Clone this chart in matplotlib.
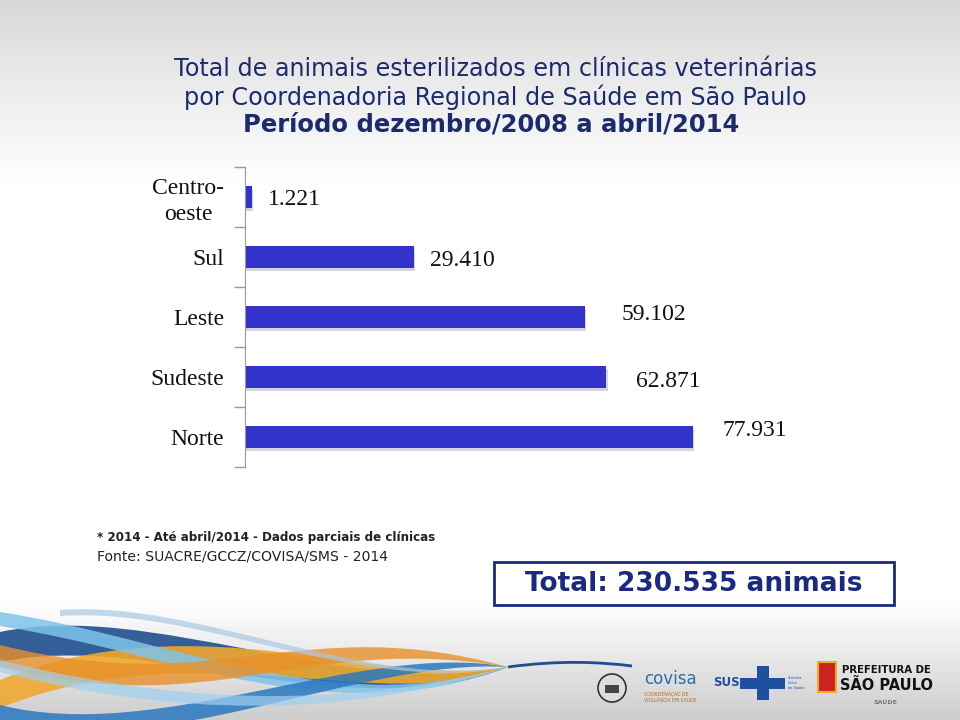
import matplotlib
matplotlib.use("Agg")
import matplotlib.pyplot as plt
import numpy as np
from matplotlib.patches import Rectangle, PathPatch, Circle
from matplotlib.path import Path

# Data
regions = ["Centro-\noeste", "Sul", "Leste", "Sudeste", "Norte"]
animals = [1221, 29410, 59102, 62871, 77931]
value_labels = ["1.221", "29.410", "59.102", "62.871", "77.931"]

title_lines = [
    "Total de animais esterilizados em clínicas veterinárias",
    "por Coordenadoria Regional de Saúde em São Paulo",
]
period = "Período dezembro/2008 a abril/2014"
note = "* 2014 - Até abril/2014 - Dados parciais de clínicas"
source = "Fonte: SUACRE/GCCZ/COVISA/SMS - 2014"
total_text = "Total: 230.535 animais"

NAVY = "#1c2a6e"
BAR = "#3333cc"

plt.rcParams["font.family"] = ["DejaVu Sans"]

fig = plt.figure(figsize=(9.6, 7.2), dpi=100)

# Background in pixel coordinates
bg = fig.add_axes([0, 0, 1, 1])
bg.set_xlim(0, 960)
bg.set_ylim(720, 0)
bg.axis("off")
rows = np.arange(720)
shade = np.interp(rows, [0, 60, 190, 600, 650, 720], [0.84, 0.90, 1.0, 1.0, 0.92, 0.80])
bg.imshow(np.tile(shade[:, None], (1, 4)), cmap="gray", vmin=0, vmax=1,
          extent=[0, 960, 720, 0], aspect="auto", zorder=0)

# Decorative swoosh (bottom-left)
ribbons = [
    ((0, 632), (150, 600), (350, 700), (508, 667), 30, "#1f4f8f", 0.9),
    ((0, 680), (200, 600), (380, 690), (508, 667), 28, "#f0a830", 0.9),
    ((0, 612), (180, 640), (330, 720), (508, 667), 14, "#7fc4ea", 0.85),
    ((0, 705), (160, 745), (360, 640), (508, 667), 18, "#2a78c0", 0.85),
    ((0, 645), (220, 700), (300, 610), (508, 667), 22, "#e8902a", 0.8),
    ((60, 610), (200, 600), (360, 690), (508, 667), 6, "#aac8e0", 0.7),
    ((0, 660), (120, 690), (300, 720), (508, 667), 12, "#9fd0f0", 0.7),
]
for p0, c1, c2, p3, thick, color, alpha in ribbons:
    verts = [p0, c1, c2, p3, (c2[0], c2[1] + thick), (c1[0], c1[1] + thick),
             (p0[0], p0[1] + thick), p0]
    codes = [Path.MOVETO, Path.CURVE4, Path.CURVE4, Path.CURVE4,
             Path.CURVE4, Path.CURVE4, Path.CURVE4, Path.CLOSEPOLY]
    bg.add_patch(PathPatch(Path(verts, codes), facecolor=color, edgecolor="none",
                           alpha=alpha, zorder=1))
tail = Path([(508, 667), (560, 660), (600, 662), (632, 666)],
            [Path.MOVETO, Path.CURVE4, Path.CURVE4, Path.CURVE4])
bg.add_patch(PathPatch(tail, facecolor="none", edgecolor="#1f4f8f", lw=2, zorder=1))

# Titles
for i, line in enumerate(title_lines):
    bg.text(495, 69 + 28.5 * i, line, ha="center", va="center", fontsize=17.2, color=NAVY)
bg.text(491, 125, period, ha="center", va="center", fontsize=17.5,
        fontweight="bold", color=NAVY)

# Footnotes
bg.text(97, 537, note, ha="left", va="center", fontsize=8.6, fontweight="bold", color="#222222")
bg.text(97, 556, source, ha="left", va="center", fontsize=10.1, color="#222222")

# Total box
bg.add_patch(Rectangle((494, 562), 400, 43, facecolor="white", edgecolor="#1a2a80", lw=2, zorder=2))
bg.text(694, 584, total_text, ha="center", va="center", fontsize=19,
        fontweight="bold", color="#1a2a80", zorder=3)

# Logos (text approximations)
bg.add_patch(Circle((612, 688), 14, facecolor="#dddddd", edgecolor="#333333", lw=1.2, zorder=2))
bg.add_patch(Rectangle((605, 685), 14, 8, facecolor="#444444", zorder=3))
bg.text(644, 679, "covisa", ha="left", va="center", fontsize=12, color="#2a6fa8", zorder=3)
bg.text(644, 697, "COORDENAÇÃO DE\nVIGILÂNCIA EM SAÚDE", ha="left", va="center",
        fontsize=3.3, color="#b06a20", linespacing=1.2, zorder=3)
bg.text(713, 683, "SUS", ha="left", va="center", fontsize=8.5, fontweight="bold",
        color="#1f4f9f", zorder=3)
bg.add_patch(Rectangle((757, 666), 12, 34, facecolor="#1f4f9f", zorder=2))
bg.add_patch(Rectangle((740, 678), 45, 11, facecolor="#1f4f9f", zorder=2))
bg.text(788, 683, "Sistema\nÚnico\nde Saúde", ha="left", va="center", fontsize=2.5,
        color="#1f4f9f", zorder=3)
bg.add_patch(Rectangle((818, 662), 18, 30, facecolor="#cc2222", edgecolor="#e8b020", lw=1.5, zorder=2))
bg.text(842, 670, "PREFEITURA DE", ha="left", va="center", fontsize=7.3,
        fontweight="bold", color="#111111", zorder=3)
bg.text(840, 686, "SÃO PAULO", ha="left", va="center", fontsize=10.5,
        fontweight="bold", color="#111111", zorder=3)
bg.text(874, 702, "SAÚDE", ha="left", va="center", fontsize=4.5, fontweight="bold",
        color="#777777", zorder=3)

# Bar chart
ax = fig.add_axes([245 / 960, 1 - 467 / 720, 600 / 960, 300 / 720])
ax.patch.set_alpha(0)
y = np.arange(len(regions))
xmax = 104370
# soft shadow below bars
ax.barh(y + 0.05, animals, height=0.37, color="#b8b8d0", alpha=0.6, zorder=1,
        left=xmax * 0.002)
ax.barh(y, animals, height=0.37, color=BAR, zorder=2)
ax.set_xlim(0, xmax)
ax.set_ylim(4.5, -0.5)

label_dx = [2800, 2800, 6400, 5200, 5200]
label_dy = [0.04, 0.06, -0.05, 0.08, -0.1]
for yi, v, txt, dx, dy in zip(y, animals, value_labels, label_dx, label_dy):
    ax.text(v + dx, yi + dy, txt, ha="left", va="center", fontsize=17,
            family="Liberation Serif", color="#111111")

ax.set_yticks(np.arange(-0.5, 5, 1))
ax.set_yticklabels([])
ax.set_yticks(y, minor=True)
ax.set_yticklabels(regions, minor=True, family="Liberation Serif", fontsize=17,
                   color="#111111", linespacing=1.25, multialignment="center")
ax.tick_params(axis="y", which="major", length=8, color="#999999", width=1)
ax.tick_params(axis="y", which="minor", length=0, pad=15)
ax.set_xticks([])
for side in ["top", "right", "bottom"]:
    ax.spines[side].set_visible(False)
ax.spines["left"].set_color("#999999")

fig.savefig("out.png", dpi=100)
